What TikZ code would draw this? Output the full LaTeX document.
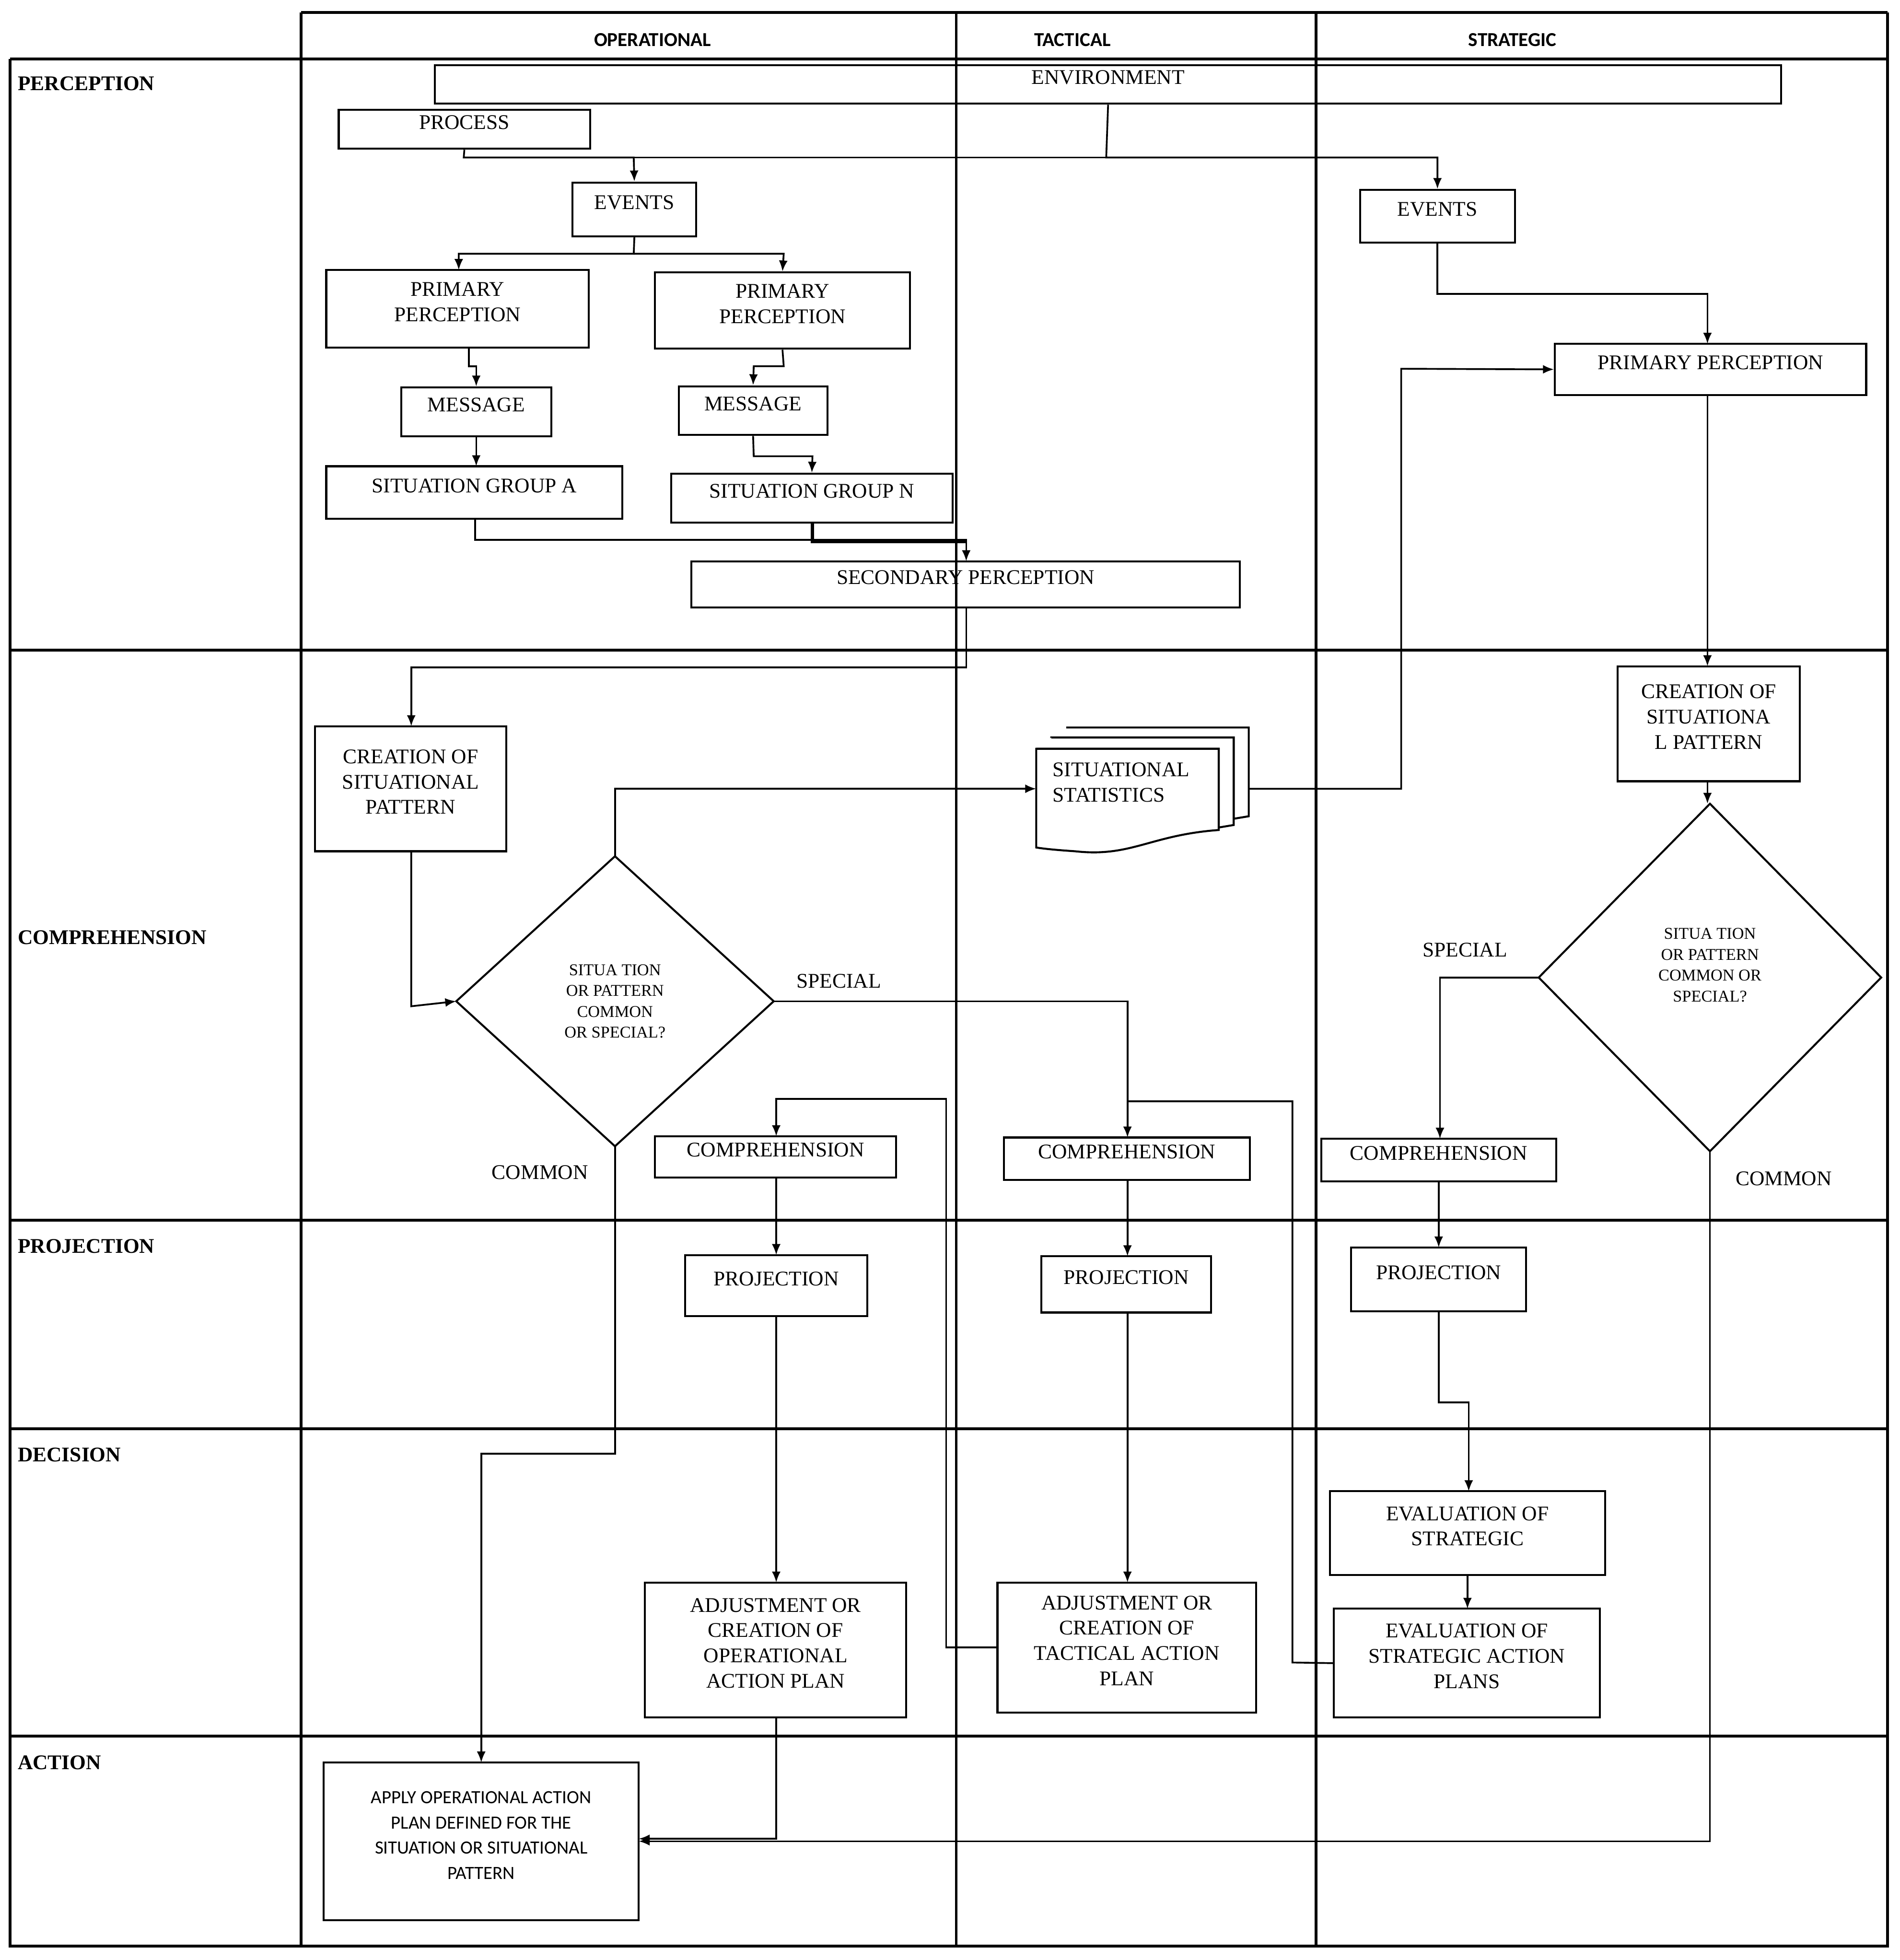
\documentclass[tikz,border=0pt]{standalone}
\usepackage{fontspec}
\setmainfont{Liberation Serif}
\newfontfamily\sansf{Carlito}
\usetikzlibrary{fit,arrows.meta}
\begin{document}
\begin{tikzpicture}[x=0.02cm,y=-0.02cm,
  box/.style={draw,line width=0.9pt,inner sep=0pt,align=center,font=\fontsize{9.5}{11.5}\selectfont},
  grid/.style={line width=1.3pt},
  arr/.style={line width=0.8pt,-{Latex[length=5pt,width=4pt]}},
  ln/.style={line width=0.8pt},
  hdr/.style={font=\sansf\bfseries\fontsize{9}{10}\selectfont},
  rowl/.style={anchor=west,font=\bfseries\fontsize{9.5}{11}\selectfont},
  lbl/.style={font=\fontsize{9.5}{11}\selectfont},
  dtxt/.style={align=center,font=\fontsize{7.5}{9.5}\selectfont}]
\useasboundingbox (0,0) rectangle (1520,1568);
\newcommand\BX[6]{\node[box,fit={(#2,#3)(#4,#5)}] (#1) {#6};}
% grid
\draw[grid] (241,10) -- (1510,10);
\draw[grid] (8,47) -- (1510,47);
\draw[grid] (8,47) -- (8,1557) -- (1510,1557) -- (1510,10);
\foreach \x in {241,765,1053} \draw[grid] (\x,10) -- (\x,1557);
\foreach \y in {520,976,1143,1389} \draw[grid] (8,\y) -- (1510,\y);
\node[hdr] (h1) at (522,32) {OPERATIONAL};
\node[hdr] (h2) at (858,32) {TACTICAL};
\node[hdr] (h3) at (1210,32) {STRATEGIC};
\node[rowl] (r1) at (8,67) {PERCEPTION};
\node[rowl] (r2) at (8,750) {COMPREHENSION};
\node[rowl] (r3) at (8,997) {PROJECTION};
\node[rowl] (r4) at (8,1164) {DECISION};
\node[rowl] (r5) at (8,1410) {ACTION};
% boxes
\BX{env}{348}{52}{1425}{83}{ENVIRONMENT}
\BX{proc}{271}{88}{472}{119}{PROCESS}
\BX{ev1}{458}{146}{557}{189}{EVENTS\\[1ex]}
\BX{pp1}{261}{216}{471}{278}{PRIMARY\\PERCEPTION}
\BX{pp2}{524}{218}{728}{279}{PRIMARY\\PERCEPTION}
\BX{msg1}{321}{310}{441}{349}{MESSAGE}
\BX{msg2}{543}{309}{662}{348}{MESSAGE}
\BX{sga}{261}{373}{498}{415}{SITUATION GROUP A}
\BX{sgn}{537}{379}{762}{418}{SITUATION GROUP N}
\BX{sec}{553}{449}{992}{486}{SECONDARY PERCEPTION}
\BX{ev2}{1088}{152}{1212}{194}{EVENTS\\[0.6ex]}
\BX{pp3}{1244}{275}{1493}{316}{PRIMARY PERCEPTION}
\BX{cs1}{252}{581}{405}{681}{CREATION OF\\SITUATIONAL\\PATTERN\\[1ex]}
\BX{cs2}{1294}{533}{1440}{625}{CREATION OF\\SITUATIONA\\L PATTERN\\[1ex]}
\BX{c1}{524}{909}{717}{942}{COMPREHENSION}
\BX{c2}{803}{910}{1000}{944}{COMPREHENSION}
\BX{c3}{1057}{911}{1245}{945}{COMPREHENSION}
\BX{p1}{548}{1004}{694}{1053}{PROJECTION\\[1ex]}
\BX{p2}{833}{1005}{969}{1050}{PROJECTION\\[0.6ex]}
\BX{p3}{1081}{998}{1221}{1049}{PROJECTION\\[1ex]}
\BX{e1}{1064}{1193}{1284}{1260}{EVALUATION OF\\STRATEGIC\\[0.8ex]}
\BX{e2}{1067}{1287}{1280}{1374}{EVALUATION OF\\STRATEGIC ACTION\\PLANS}
\BX{a1}{516}{1266}{725}{1374}{ADJUSTMENT OR\\CREATION OF\\OPERATIONAL\\ACTION PLAN}
\BX{a2}{798}{1266}{1005}{1370}{ADJUSTMENT OR\\CREATION OF\\TACTICAL ACTION\\PLAN}
\node[box,fit={(259,1410)(511,1536)},font=\sansf\fontsize{8.5}{11.5}\selectfont] (ap) {APPLY OPERATIONAL ACTION\\PLAN DEFINED FOR THE\\SITUATION OR SITUATIONAL\\PATTERN\\[1ex]};
% stats document stack
\draw[line width=0.9pt,fill=white] (853,582) -- (999,582) -- (999,653) -- (987,655) -- (987,590) -- (841,590) -- (841,599);
\draw[line width=0.9pt,fill=white] (841,590) -- (987,590) -- (987,660) -- (975,662) -- (975,599) -- (829,599);
\draw[line width=0.9pt,fill=white] (829,599) -- (975,599) -- (975,664) .. controls (920,668) and (905,686) .. (860,681) .. controls (845,680) and (835,679) .. (829,678) -- cycle;
\coordinate (stl) at (829,631);
\coordinate (str) at (999,631);
\node[dtxt,font=\fontsize{9.5}{11.5}\selectfont,align=left,anchor=north west] (stt) at (836,604) {SITUATIONAL\\STATISTICS};
% diamonds
\coordinate (d1t) at (492,685); \coordinate (d1b) at (492,917);
\coordinate (d1l) at (365,801); \coordinate (d1r) at (619,801);
\draw[line width=0.9pt] (d1t) -- (d1r) -- (d1b) -- (d1l) -- cycle;
\node[dtxt] (d1) at (492,801) {SITUA TION\\OR PATTERN\\COMMON\\OR SPECIAL?};
\coordinate (d2t) at (1368,643); \coordinate (d2b) at (1368,921);
\coordinate (d2l) at (1231,782); \coordinate (d2r) at (1505,782);
\draw[line width=0.9pt] (d2t) -- (d2r) -- (d2b) -- (d2l) -- cycle;
\node[dtxt] (d2) at (1368,772) {SITUA TION\\OR PATTERN\\COMMON OR\\SPECIAL?};
\node[lbl] (s1) at (671,785) {SPECIAL};
\node[lbl] (cm1) at (432,938) {COMMON};
\node[lbl] (s2) at (1172,760) {SPECIAL};
\node[lbl] (cm2) at (1427,943) {COMMON};
% connectors
\draw[arr] (proc.south) -- (371,126) -- (507,126) -- (ev1.north);
\draw[arr] (env.south) -- (885,126) -- (1150,126) -- (ev2.north);
\draw[ln] (885,126) -- (507,126);
\draw[arr] (ev1.south) -- (507,203) -- (367,203) -- (367,216);
\draw[arr] (507,203) -- (627,203) -- (pp2.north);
\draw[arr] (375,278) -- (375,293) -- (381,293) -- (msg1.north);
\draw[arr] (pp2.south) -- (627,293) -- (603,293) -- (msg2.north);
\draw[arr] (msg1.south) -- (381,373);
\draw[arr] (msg2.south) -- (603,365) -- (650,365) -- (sgn.north);
\draw[arr] (380,415) -- (380,432) -- (773,432) -- (773,449);
\draw[line width=1.6pt] (650,418) -- (650,433) -- (773,433);
\draw[arr] (773,486) -- (773,534) -- (329,534) -- (329,581);
\draw[arr] (329,681) -- (329,805) -- (d1l);
\draw[arr] (d1t) -- (492,631) -- (stl);
\draw[arr] (str) -- (1121,631) -- (1121,295) -- (pp3.west);
\draw[arr] (ev2.south) -- (1150,235) -- (1366,235) -- (1366,275);
\draw[arr] (1366,316) -- (1366,533);
\draw[arr] (1366,625) -- (1366,643);
\draw[arr] (d1r) -- (902,801) -- (902,910);
\draw[arr] (d1b) -- (492,1163) -- (385,1163) -- (385,1410);
\draw[arr] (d2l) -- (1152,782) -- (1152,911);
\draw[arr] (d2b) -- (1368,1473) -- (511,1473);
\draw[arr] (621,942) -- (621,1004);
\draw[arr] (902,944) -- (902,1005);
\draw[arr] (1151,945) -- (1151,998);
\draw[arr] (621,1053) -- (621,1266);
\draw[arr] (902,1050) -- (902,1266);
\draw[arr] (1151,1049) -- (1151,1122) -- (1175,1122) -- (1175,1193);
\draw[arr] (1174,1260) -- (1174,1287);
\draw[arr] (621,1374) -- (621,1471) -- (511,1471);
\draw[arr] (a2.west) -- (757,1318) -- (757,879) -- (621,879) -- (621,909);
\draw[ln] (e2.west) -- (1034,1330) -- (1034,881) -- (902,881);
\end{tikzpicture}
\end{document}
